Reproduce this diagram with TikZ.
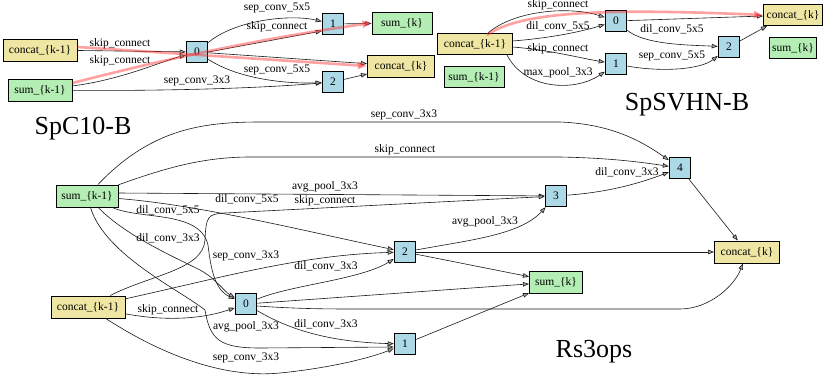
\documentclass[tikz,border=0pt]{standalone}
\usepackage{fontspec}
\setmainfont{Liberation Serif}
\usetikzlibrary{arrows.meta}
\definecolor{khakiA}{HTML}{EEE6A2}
\definecolor{greenA}{HTML}{B4EEB4}
\definecolor{blueA}{HTML}{ADD8E6}
\definecolor{hlred}{HTML}{FF3030}
\newcommand\myef{\fontsize{11.5}{13}\selectfont}
\newcommand\myttl{\fontsize{26}{30}\selectfont}
\begin{document}
\begin{tikzpicture}[x=1pt,y=-1pt,
  box/.style={draw=black, line width=1pt, inner sep=0pt, minimum height=22pt, font=\myef},
  opn/.style={box, fill=blueA, minimum width=21.5pt, minimum height=21.5pt},
  cat/.style={box, fill=khakiA},
  sm/.style={box, fill=greenA},
  edg/.style={draw=black!90, line width=0.6pt, -{Triangle[length=6pt,width=4.5pt,fill=gray!70]}},
  lab/.style={font=\myef, inner sep=0pt},
  hl/.style={draw=hlred, line width=2.6pt, opacity=0.45, -{Triangle[length=9pt,width=7pt]}},
  ttl/.style={font=\myttl, anchor=base, inner sep=0pt}]
\fill[white] (0,0) rectangle (830,378);
\useasboundingbox (0,0) rectangle (830,378);

% ---------- SpC10-B ----------
\node[cat,minimum width=74pt] (tlc1) at (40,50) {concat\_\{k-1\}};
\node[sm,minimum width=64pt] (tls1) at (40,90) {sum\_\{k-1\}};
\node[opn] (tl0) at (197,52) {0};
\node[opn] (tl1) at (333,24) {1};
\node[opn] (tl2) at (333,82) {2};
\node[sm,minimum width=60pt] (tlsk) at (402,23) {sum\_\{k\}};
\node[cat,minimum width=67pt] (tlck) at (401,66) {concat\_\{k\}};
\node[ttl] (t1) at (83,134) {SpC10-B};

\draw[edg] (tlc1) -- (tl0) node[lab,at={(120,44)}] {skip\_connect};
\draw[edg] (tls1) .. controls (120,80) and (160,62) .. (tl0) node[lab,at={(120,61)}] {skip\_connect};
\draw[edg] (tls1) .. controls (150,91) and (250,89) .. (tl2) node[lab,at={(197,81)}] {sep\_conv\_3x3};
\draw[edg] (tl0) .. controls (235,20) and (290,14) .. (tl1) node[lab,at={(277,8)}] {sep\_conv\_5x5};
\draw[edg] (tl0.east) -- ([yshift=-7pt]tl1.west) node[lab,at={(277,27)}] {skip\_connect};
\draw[edg] (tl0) -- (tlck);
\draw[edg] (tl0) .. controls (240,80) and (290,84) .. (tl2) node[lab,at={(277,70)}] {sep\_conv\_5x5};
\draw[edg] (tl1) -- (tlsk);
\draw[edg] (tl2) -- (tlck);
\draw[hl] ([yshift=3pt]tlc1.east) -- (tlck.west);
\draw[hl] ([yshift=7pt]tls1.east) .. controls (150,63) and (250,40) .. (tlsk.west);

% ---------- SpSVHN-B ----------
\node[cat,minimum width=75pt,minimum height=21pt] (trc1) at (475,44) {concat\_\{k-1\}};
\node[sm,minimum width=60pt,minimum height=21pt] (trs1) at (474,77) {sum\_\{k-1\}};
\node[opn] (tr0) at (616,21) {0};
\node[opn] (tr1) at (616,64) {1};
\node[opn] (tr2) at (729,47) {2};
\node[cat,minimum width=59pt,minimum height=21pt] (trck) at (793,15) {concat\_\{k\}};
\node[sm,minimum width=47pt,minimum height=21pt] (trsk) at (793,48) {sum\_\{k\}};
\node[ttl] (t2) at (687,110) {SpSVHN-B};

\draw[edg] (trc1) .. controls (515,10) and (570,6) .. (tr0) node[lab,at={(558,5)}] {skip\_connect};
\draw[edg] (trc1) .. controls (550,38) and (580,32) .. (tr0) node[lab,at={(558,26)}] {dil\_conv\_5x5};
\draw[edg] (trc1) .. controls (550,50) and (580,58) .. (tr1) node[lab,at={(558,49)}] {skip\_connect};
\draw[edg] ([xshift=32pt]trc1.south) .. controls (525,90) and (575,92) .. (tr1) node[lab,at={(558,73)}] {max\_pool\_3x3};
\draw[edg] (tr0) -- (trck);
\draw[edg] (tr0) .. controls (645,45) and (690,45) .. (tr2) node[lab,at={(672,29)}] {dil\_conv\_5x5};
\draw[edg] (tr1) .. controls (660,72) and (700,70) .. (tr2) node[lab,at={(672,56)}] {sep\_conv\_5x5};
\draw[edg] (tr2) -- ([xshift=-26pt]trck.south);
\draw[hl] ([xshift=12pt,yshift=-2pt]trc1.north) .. controls (520,12) and (600,8) .. (trck.west);

% ---------- Rs3ops ----------
\node[sm,minimum width=62pt] (bs1) at (87,196) {sum\_\{k-1\}};
\node[cat,minimum width=74pt] (bc1) at (88,307) {concat\_\{k-1\}};
\node[opn] (b0) at (246,304) {0};
\node[opn] (b1) at (405,344) {1};
\node[opn] (b2) at (405,252) {2};
\node[opn] (b3) at (556,196) {3};
\node[opn] (b4) at (680,168) {4};
\node[sm,minimum width=53pt] (bsk) at (556,282) {sum\_\{k\}};
\node[cat,minimum width=65pt] (bck) at (747,252) {concat\_\{k\}};
\node[ttl] (t3) at (594,357) {Rs3ops};

\draw[edg] (bs1) .. controls (150,130) and (200,122) .. (260,122) -- (560,122) .. controls (610,124) and (640,140) .. (b4) node[lab,at={(404,115)}] {sep\_conv\_3x3};
\draw[edg] (bs1) .. controls (160,170) and (200,157) .. (250,157) -- (560,157) .. controls (610,158) and (640,162) .. (b4) node[lab,at={(405,150)}] {skip\_connect};
\draw[edg] ([yshift=3pt]bs1.east) -- (b3) node[lab,at={(325,187)}] {avg\_pool\_3x3};
\draw[edg] (bc1) .. controls (150,275) and (203,270) .. (205,240) .. controls (206,216) and (208,214) .. (225,213) -- (b3) node[lab,at={(325,201)}] {skip\_connect};
\draw[edg] (bs1) .. controls (200,205) and (300,230) .. (b2) node[lab,at={(247,199)}] {dil\_conv\_5x5};
\draw[edg] (bs1) .. controls (140,220) and (200,210) .. (208,245) .. controls (211,270) and (215,290) .. (b0) node[lab,at={(168,210)}] {dil\_conv\_5x5};
\draw[edg] (bs1) .. controls (125,235) and (170,255) .. (200,270) .. controls (215,278) and (225,292) .. (b0) node[lab,at={(168,238)}] {dil\_conv\_3x3};
\draw[edg] (bs1) .. controls (105,255) and (180,290) .. (205,310) .. controls (210,340) and (220,348) .. (260,348) -- ([yshift=-3pt]b1.west) node[lab,at={(246,327)}] {avg\_pool\_3x3};
\draw[edg] (bc1) .. controls (220,278) and (300,255) .. (b2) node[lab,at={(246,256)}] {sep\_conv\_3x3};
\draw[edg] (bc1) .. controls (170,322) and (205,318) .. (b0) node[lab,at={(168,310)}] {skip\_connect};
\draw[edg] (bc1) .. controls (170,360) and (230,378) .. (280,373) .. controls (330,368) and (370,358) .. (b1) node[lab,at={(246,358)}] {sep\_conv\_3x3};
\draw[edg] (b0) .. controls (290,330) and (330,342) .. (b1) node[lab,at={(326,324)}] {dil\_conv\_3x3};
\draw[edg] (b0) .. controls (290,285) and (360,280) .. (b2) node[lab,at={(326,266)}] {dil\_conv\_3x3};
\draw[edg] (b0) -- (bsk);
\draw[edg] ([yshift=-2pt]b0.east) .. controls (300,309) and (330,309) .. (360,309) -- (680,309) .. controls (710,309) and (735,285) .. (bck);
\draw[edg] (b1) -- (bsk);
\draw[edg] (b2) -- (bsk);
\draw[edg] (b2) -- (bck);
\draw[edg] (b2) .. controls (470,240) and (520,235) .. (b3) node[lab,at={(485,222)}] {avg\_pool\_3x3};
\draw[edg] (b3) .. controls (610,192) and (640,183) .. (b4) node[lab,at={(627,172)}] {dil\_conv\_3x3};
\draw[edg] (b4) -- (bck);
\end{tikzpicture}
\end{document}
